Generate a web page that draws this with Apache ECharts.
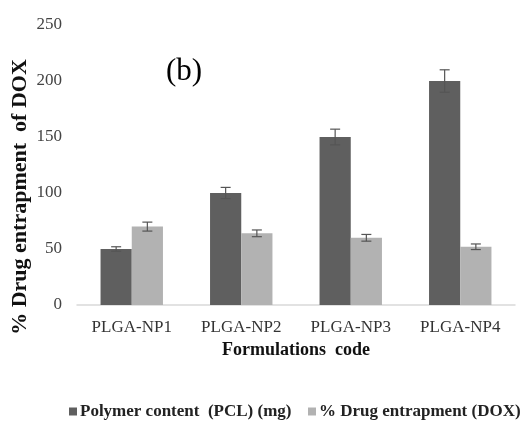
<!DOCTYPE html>
<html>
<head>
<meta charset="utf-8">
<script src="https://cdn.jsdelivr.net/npm/echarts@6/dist/echarts.min.js"></script>
<style>html,body{margin:0;padding:0;background:#fff;}#c{width:524px;height:426px;}</style>
</head>
<body>
<div id="c"></div>
<script>
const categories = ['PLGA-NP1', 'PLGA-NP2', 'PLGA-NP3', 'PLGA-NP4'];
const polymerValues = [50, 100, 150, 200];
const polymerErrors = [2, 5, 7, 10];
const drugValues = [70, 64, 60, 52];
const drugErrors = [4, 3, 3, 2.5];
const yTicks = [0, 50, 100, 150, 200, 250];

const seriesNames = ['Polymer content  (PCL) (mg)', '% Drug entrapment (DOX)'];
const colors = ['#5f5f5f', '#b2b2b2'];
const catGap = 0.43;
const font = 'Liberation Serif, Times New Roman, serif';

function errorSeries(values, errs, idx) {
  return {
    type: 'custom',
    z: 10,
    data: values.map((v, i) => [i, v - errs[i], v + errs[i]]),
    renderItem: function (params, api) {
      const i = api.value(0);
      const band = api.size([1, 0])[0];
      const group = band * (1 - catGap);
      const off = (idx === 0 ? -1 : 1) * group / 4;
      const lo = api.coord([i, api.value(1)]);
      const hi = api.coord([i, api.value(2)]);
      const x = lo[0] + off;
      const cap = 5;
      const style = { stroke: '#555', lineWidth: 1.2 };
      return {
        type: 'group',
        children: [
          { type: 'line', shape: { x1: x, y1: lo[1], x2: x, y2: hi[1] }, style: style },
          { type: 'line', shape: { x1: x - cap, y1: lo[1], x2: x + cap, y2: lo[1] }, style: style },
          { type: 'line', shape: { x1: x - cap, y1: hi[1], x2: x + cap, y2: hi[1] }, style: style }
        ]
      };
    },
    silent: true,
    tooltip: { show: false }
  };
}

function legendFor(name, left) {
  return {
    data: [name],
    left: left,
    top: 398,
    icon: 'rect',
    itemWidth: 8,
    itemHeight: 8,
    textStyle: { fontFamily: font, fontWeight: 'bold', fontSize: 17, color: '#222', padding: [0, 0, 0, -2] }
  };
}

const chart = echarts.init(document.getElementById('c'));
chart.setOption({
  animation: false,
  textStyle: { fontFamily: font },
  grid: { left: 77, right: 9, top: 25, bottom: 121, containLabel: false },
  legend: [legendFor(seriesNames[0], 64), legendFor(seriesNames[1], 303)],
  graphic: [
    {
      type: 'text',
      left: 166,
      top: 56,
      style: { text: '(b)', font: '31px ' + font, fill: '#000' }
    },
    {
      type: 'text',
      x: 20,
      y: 197,
      rotation: Math.PI / 2,
      style: {
        text: '% Drug entrapment  of DOX',
        font: 'bold 22px ' + font,
        fill: '#111',
        align: 'center',
        verticalAlign: 'middle'
      }
    }
  ],
  xAxis: {
    type: 'category',
    data: categories,
    name: 'Formulations  code',
    nameLocation: 'middle',
    nameGap: 36,
    nameTextStyle: { fontFamily: font, fontWeight: 'bold', fontSize: 18, color: '#111' },
    axisLine: { lineStyle: { color: '#d9d9d9', width: 1.5 } },
    axisTick: { show: false },
    axisLabel: { fontFamily: font, fontSize: 17, color: '#333', margin: 14 }
  },
  yAxis: {
    type: 'value',
    min: yTicks[0],
    max: yTicks[yTicks.length - 1],
    interval: 50,
    axisLine: { show: false },
    axisTick: { show: false },
    splitLine: { show: false },
    axisLabel: { fontFamily: font, fontSize: 17, color: '#444', margin: 15 }
  },
  series: [
    { name: seriesNames[0], type: 'bar', data: polymerValues, itemStyle: { color: colors[0] }, barGap: '0%', barCategoryGap: '43%' },
    { name: seriesNames[1], type: 'bar', data: drugValues, itemStyle: { color: colors[1] }, barGap: '0%', barCategoryGap: '43%' },
    errorSeries(polymerValues, polymerErrors, 0),
    errorSeries(drugValues, drugErrors, 1)
  ]
});
</script>
</body>
</html>
